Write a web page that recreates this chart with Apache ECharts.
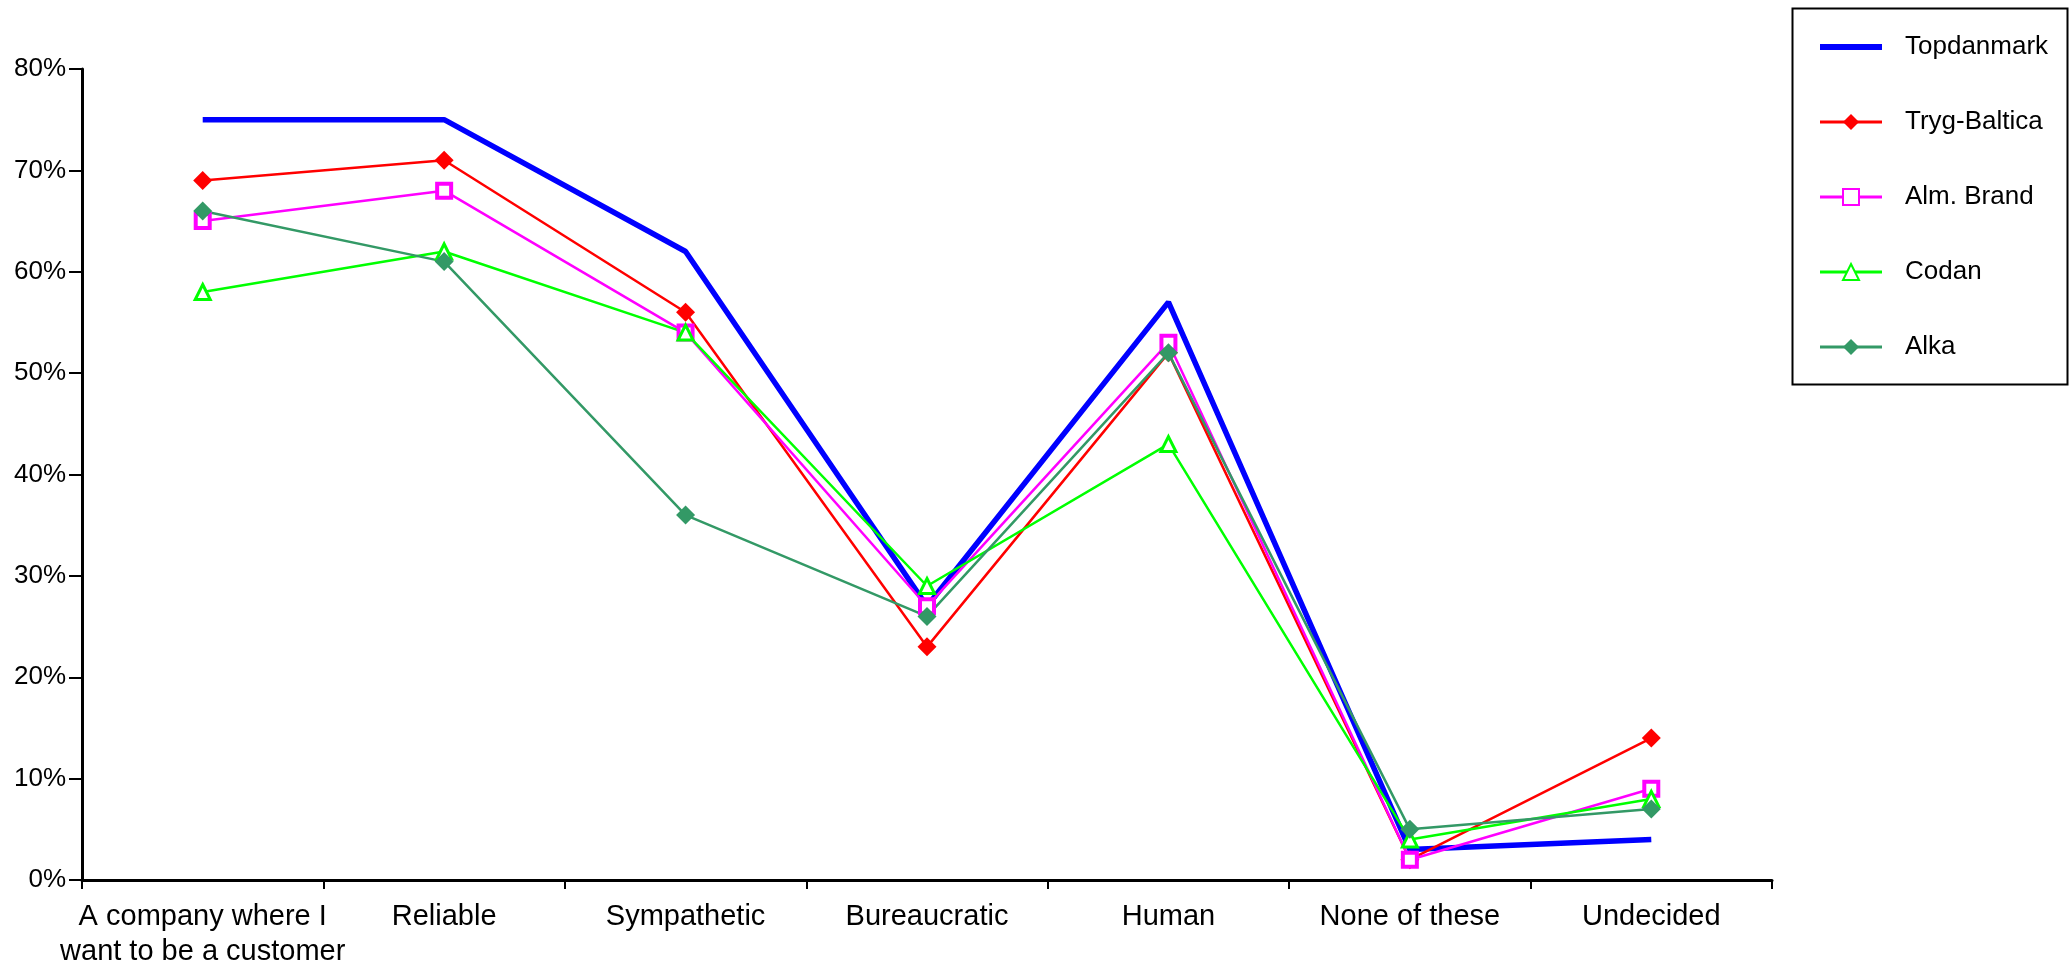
<!DOCTYPE html>
<html>
<head>
<meta charset="utf-8">
<script src="https://cdn.jsdelivr.net/npm/echarts@6/dist/echarts.min.js"></script>
<style>
html,body{margin:0;padding:0;background:#fff;}
#chart{width:2071px;height:969px;}
</style>
</head>
<body>
<div id="chart"></div>
<script>
const categories = ["A company where I\nwant to be a customer", "Reliable", "Sympathetic", "Bureaucratic", "Human", "None of these", "Undecided"];
const seriesNames = ["Topdanmark", "Tryg-Baltica", "Alm. Brand", "Codan", "Alka"];
const topdanmark  = [75, 75, 62, 27, 57, 3, 4];
const trygBaltica = [69, 71, 56, 23, 52, 2, 14];
const almBrand    = [65, 68, 54, 27, 53, 2, 9];
const codan       = [58, 62, 54, 29, 43, 4, 8];
const alka        = [66, 61, 36, 26, 52, 5, 7];
const yTicks = [0, 10, 20, 30, 40, 50, 60, 70, 80];

const FONT = "'Liberation Sans', Arial, sans-serif";
const chart = echarts.init(document.getElementById('chart'));

function lineSeries(name, data, color, width, symbol, size, fill, borderW) {
  return {
    name: name, type: 'line', data: data,
    symbol: symbol, symbolSize: size, showSymbol: symbol !== 'none',
    lineStyle: {color: color, width: width},
    itemStyle: {color: fill, borderColor: color, borderWidth: borderW},
    emphasis: {disabled: true},
    z: name === 'Topdanmark' ? 1 : 3
  };
}

chart.setOption({
  animation: false,
  backgroundColor: '#fff',
  grid: {left: 82, right: 299, top: 69, bottom: 89, containLabel: false},
  graphic: [{
    type: 'rect', left: 1790, top: 6,
    shape: {width: 275, height: 376},
    style: {fill: 'none', stroke: '#000', lineWidth: 2}, z: 0
  }],
  legend: {
    orient: 'vertical', left: 1812, top: 29,
    itemWidth: 62, itemHeight: 20, itemGap: 49,
    data: [
      {name: seriesNames[0], itemStyle: {opacity: 0}, lineStyle: {width: 6}},
      {name: seriesNames[1], lineStyle: {width: 3}},
      {name: seriesNames[2], lineStyle: {width: 3}},
      {name: seriesNames[3], lineStyle: {width: 3}},
      {name: seriesNames[4], lineStyle: {width: 3}}
    ],
    textStyle: {fontFamily: FONT, fontSize: 26, color: '#000', padding: [0, 0, 0, 18], lineHeight: 26},
    selectedMode: false
  },
  xAxis: {
    type: 'category', data: categories, boundaryGap: true,
    axisLine: {lineStyle: {color: '#000', width: 3}},
    axisTick: {show: true, length: 9, lineStyle: {color: '#000', width: 2}},
    axisLabel: {interval: 0, fontFamily: FONT, fontSize: 29, color: '#000', margin: 19, lineHeight: 35},
    splitLine: {show: false}
  },
  yAxis: {
    type: 'value', min: yTicks[0], max: yTicks[yTicks.length - 1], interval: 10,
    axisLine: {show: true, lineStyle: {color: '#000', width: 3}},
    axisTick: {show: true, length: 13, lineStyle: {color: '#000', width: 2}},
    axisLabel: {formatter: '{value}%', fontFamily: FONT, fontSize: 26, color: '#000', margin: 16},
    splitLine: {show: false}
  },
  series: [
    lineSeries(seriesNames[0], topdanmark, '#0000FF', 5.5, 'none', 0, '#0000FF', 0),
    lineSeries(seriesNames[1], trygBaltica, '#FF0000', 2.5, 'diamond', 19, '#FF0000', 0),
    lineSeries(seriesNames[2], almBrand, '#FF00FF', 2.5, 'rect', 14, '#FFFFFF', 4),
    lineSeries(seriesNames[3], codan, '#00FF00', 2.5, 'triangle', 15, '#FFFFFF', 3),
    lineSeries(seriesNames[4], alka, '#339966', 2.5, 'diamond', 19, '#339966', 0)
  ]
});
</script>
</body>
</html>
